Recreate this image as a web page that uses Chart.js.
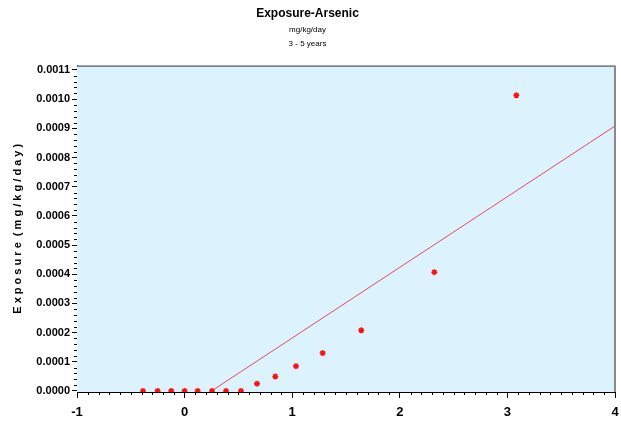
<!DOCTYPE html>
<html>
<head>
<meta charset="utf-8">
<script src="https://cdn.jsdelivr.net/npm/chart.js@4/dist/chart.umd.min.js"></script>
<style>
    body { margin: 0; background: #ffffff; }
    #wrap { width: 621px; height: 423px; }
</style>
</head>
<body>
<div id="wrap"><canvas id="exposureChart" width="621" height="423"></canvas></div>
<script>
// observed exposure values (normal score vs exposure)
const scoreX = [-0.387, -0.251, -0.124, 0, 0.121, 0.255, 0.385, 0.524, 0.673, 0.843, 1.035, 1.283, 1.642, 2.321, 3.083];
const exposureY = [0, 0, 0, 0, 0, 0, 0, 0, 0.000025, 0.00005, 0.000085, 0.00013, 0.000208, 0.000407, 0.001013];

// reference line ends
const lineX = [0.25, 4];
const lineY = [0, 0.000908];

const xTicks = [-1, 0, 1, 2, 3, 4];
const yTicks = [0, 0.0001, 0.0002, 0.0003, 0.0004, 0.0005, 0.0006, 0.0007, 0.0008, 0.0009, 0.0010, 0.0011];

const sans = "'Liberation Sans', Arial, sans-serif";

const plotFrame = {
    id: 'plotFrame',
    beforeDatasetsDraw(chart) {
        const { ctx, chartArea: a } = chart;
        ctx.save();
        ctx.fillStyle = '#dcf2fd';
        ctx.fillRect(a.left, a.top, a.right - a.left, a.bottom - a.top);
        ctx.restore();
    },
    afterDraw(chart) {
        const { ctx, chartArea: a, scales } = chart;
        ctx.save();
        // top and right frame
        ctx.strokeStyle = '#333333';
        ctx.lineWidth = 1;
        ctx.beginPath();
        ctx.moveTo(a.left, a.top + 0.5);
        ctx.lineTo(a.right, a.top + 0.5);
        ctx.stroke();
        ctx.strokeStyle = '#8a8a8a';
        ctx.lineWidth = 2;
        ctx.beginPath();
        ctx.moveTo(a.right, a.top);
        ctx.lineTo(a.right, a.bottom);
        ctx.stroke();

        // minor ticks
        ctx.strokeStyle = '#000000';
        ctx.lineWidth = 1;
        ctx.beginPath();
        for (let i = -10; i <= 40; i++) {
            if (i % 10 === 0) continue;
            const px = Math.round(scales.x.getPixelForValue(i / 10)) + 0.5;
            ctx.moveTo(px, a.bottom);
            ctx.lineTo(px, a.bottom + 3);
        }
        for (let i = 1; i <= 55; i++) {
            if (i % 5 === 0) continue;
            const py = Math.round(scales.y.getPixelForValue(i * 0.00002)) + 0.5;
            if (py < a.top) continue;
            ctx.moveTo(a.left, py);
            ctx.lineTo(a.left - 3, py);
        }
        ctx.stroke();
        ctx.restore();
    }
};

new Chart(document.getElementById('exposureChart'), {
    type: 'scatter',
    data: {
        datasets: [
            {
                label: 'Exposure',
                data: scoreX.map((x, i) => ({ x: x, y: exposureY[i] })),
                pointStyle: 'star',
                pointRadius: 3,
                borderColor: '#ff1010',
                backgroundColor: '#ff1010',
                borderWidth: 1.5
            },
            {
                label: 'Reference',
                data: lineX.map((x, i) => ({ x: x, y: lineY[i] })),
                showLine: true,
                pointRadius: 0,
                borderColor: '#e8485f',
                borderWidth: 1
            }
        ]
    },
    options: {
        responsive: false,
        animation: false,
        layout: { padding: { left: 0, right: 6, bottom: 0, top: 0 } },
        plugins: {
            legend: { display: false },
            tooltip: { enabled: false },
            title: {
                display: true,
                text: 'Exposure-Arsenic',
                color: '#000000',
                font: { family: sans, size: 12, weight: 'bold', lineHeight: 1.2 },
                padding: { top: 6, bottom: 3 }
            },
            subtitle: {
                display: true,
                text: ['mg/kg/day', '3 - 5 years'],
                color: '#000000',
                font: { family: sans, size: 8, lineHeight: 1.7 },
                padding: { top: 0, bottom: 15 }
            }
        },
        scales: {
            x: {
                type: 'linear',
                min: -1,
                max: 4,
                afterBuildTicks: s => { s.ticks = xTicks.map(v => ({ value: v })); },
                afterFit: s => { s.height = 31; s.paddingRight = 0; s.paddingLeft = 0; },
                ticks: {
                    color: '#000000',
                    font: { family: sans, size: 13, weight: 'bold' },
                    padding: 7,
                    callback: v => String(v)
                },
                grid: { drawOnChartArea: false, tickLength: 6, color: '#000000' },
                border: { display: true, color: '#000000', width: 1 }
            },
            y: {
                type: 'linear',
                min: -0.0000035,
                max: 0.001115,
                afterBuildTicks: s => { s.ticks = yTicks.map(v => ({ value: v })); },
                afterFit: s => { s.width = 77; },
                ticks: {
                    color: '#000000',
                    font: { family: sans, size: 11, weight: 'bold' },
                    padding: 2,
                    callback: v => Number(v).toFixed(4)
                },
                grid: { drawOnChartArea: false, tickLength: 5, color: '#000000' },
                border: { display: true, color: '#000000', width: 1 },
                title: {
                    display: true,
                    text: 'E x p o s u r e  ( m g / k g / d a y )',
                    color: '#000000',
                    font: { family: sans, size: 11, weight: 'bold' },
                    padding: { top: 11, bottom: 2 }
                }
            }
        }
    },
    plugins: [plotFrame]
});
</script>
</body>
</html>
